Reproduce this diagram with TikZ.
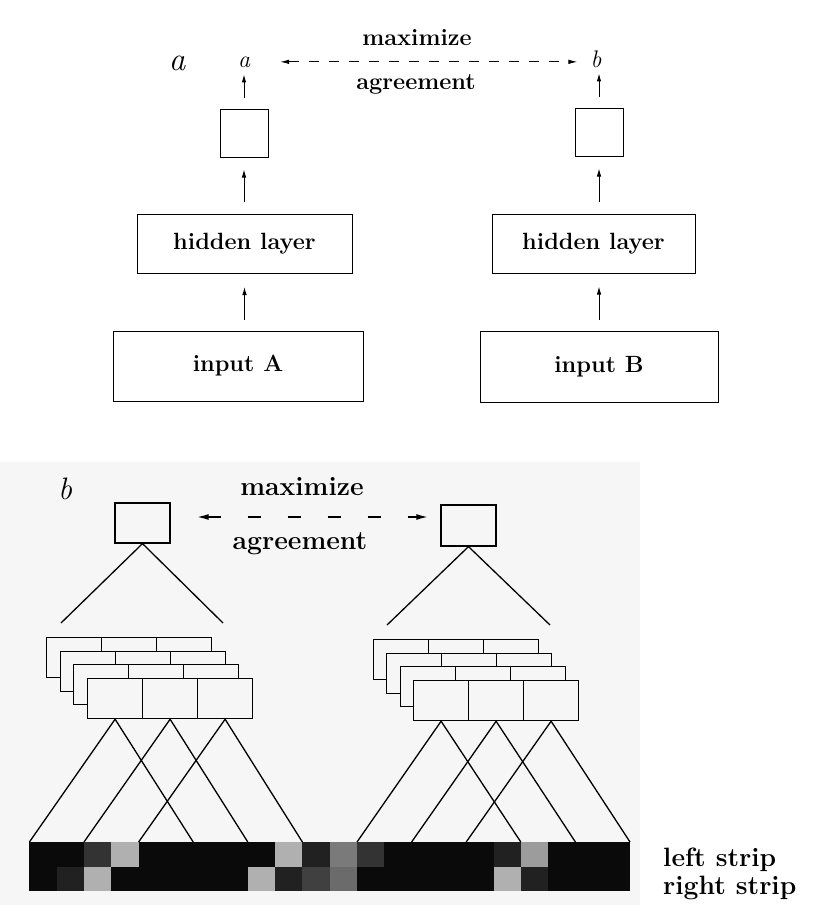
\documentclass[tikz,border=0pt]{standalone}
\usetikzlibrary{arrows.meta,calc}
\definecolor{bgb}{gray}{0.965}
\definecolor{sk}{gray}{0.04}
\definecolor{sdA}{gray}{0.13}
\definecolor{sdB}{gray}{0.2}
\definecolor{sdC}{gray}{0.25}
\definecolor{smA}{gray}{0.48}
\definecolor{smB}{gray}{0.42}
\definecolor{slA}{gray}{0.69}
\definecolor{slB}{gray}{0.61}
\tikzset{
  fa/.style={font=\fontsize{23.5}{27}\selectfont\bfseries},
  fb/.style={font=\fontsize{26.5}{30}\selectfont\bfseries},
  abox/.style={draw, line width=1pt, inner sep=0pt, fa},
  bbox/.style={draw, line width=1.2pt, inner sep=0pt, fill=bgb},
  cellbox/.style={draw, line width=1.2pt, inner sep=0pt, fill=bgb, minimum width=55pt, minimum height=40pt, anchor=north west},
  lbl/.style={inner sep=0pt, anchor=base},
  sarr/.style={line width=0.9pt, -{Latex[length=8pt,width=4.5pt]}},
  dasharrA/.style={line width=1pt, dash pattern=on 10pt off 10pt, {Latex[length=9pt,width=4.5pt]}-{Latex[length=9pt,width=4.5pt]}},
  dasharrB/.style={line width=1.8pt, dash pattern=on 13pt off 27pt, {Latex[length=12pt,width=6pt]}-{Latex[length=12pt,width=6pt]}},
  conn/.style={line width=1.3pt},
}
\begin{document}
\begin{tikzpicture}[x=1pt,y=-1pt]
\useasboundingbox (0,0) rectangle (833,905);
\fill[bgb] (0,462) rectangle (640,905);

% ---------- panel a ----------
\node[lbl, font=\fontsize{33}{36}\selectfont\itshape] (pa) at (177,70) {a};
\node[lbl, font=\fontsize{24}{28}\selectfont\itshape] (la) at (244,67) {a};
\node[lbl, font=\fontsize{24}{28}\selectfont\itshape] (lb) at (596,67) {b};
\node[lbl, fa] (maxa) at (417,45) {maximize};
\node[lbl, fa] (agra) at (416,89) {agreement};

\node[abox, minimum width=48pt, minimum height=48pt] (sa) at (244,133) {};
\node[abox, minimum width=48pt, minimum height=48pt] (sb) at (599,132) {};
\node[abox, minimum width=215pt, minimum height=59pt] (ha) at (244.5,244) {hidden layer};
\node[abox, minimum width=203pt, minimum height=59pt] (hb) at (593.5,243.5) {hidden layer};
\node[abox, minimum width=250pt, minimum height=70pt] (ia) at (238,366) {input A};
\node[abox, minimum width=238pt, minimum height=71pt] (ib) at (599,366.5) {input B};

\draw[sarr, shorten <=11pt, shorten >=13pt] (ha.south |- ia.north) -- (ha.south);
\draw[sarr, shorten <=12pt, shorten >=12pt] (sa.south |- ha.north) -- (sa.south);
\draw[sarr, shorten <=11pt, shorten >=7pt] (sa.north) -- (sa.north |- la.south);
\draw[sarr, shorten <=11pt, shorten >=13pt] (sb.south |- ib.north) -- (sb.south |- hb.south);
\draw[sarr, shorten <=12pt, shorten >=12pt] (sb.south |- hb.north) -- (sb.south);
\draw[sarr, shorten <=11pt, shorten >=6pt] (sb.north) -- (sb.north |- lb.south);
\draw[dasharrA, shorten <=36pt, shorten >=13pt] (la.center) -- (la.center -| lb.west);

% ---------- panel b ----------
\node[lbl, font=\fontsize{31}{34}\selectfont\itshape] (pb) at (65,499) {b};
\node[lbl, fb] (maxb) at (302,495) {maximize};
\node[lbl, fb] (agrb) at (300,549) {agreement};

\node[bbox, minimum width=55pt, minimum height=40pt] (ta) at (142.5,523) {};
\node[bbox, minimum width=55pt, minimum height=41pt] (tb) at (468.5,525.5) {};
\draw[dasharrB, shorten <=26pt, shorten >=12pt] ([yshift=6pt]ta.east) -- ([yshift=6pt]ta.east -| tb.west);

\coordinate (tal) at (61,623);
\coordinate (tar) at (223,623);
\coordinate (tbl) at (387,625);
\coordinate (tbr) at (550,625);
\draw[conn] (tal) -- (ta.south) -- (tar);
\draw[conn] (tbl) -- (tb.south) -- (tbr);

% stacks of feature maps (back layer first)
\foreach \j/\lx/\ly/\rx/\ry in {3/46/637/373/639, 2/60/651/386/653, 1/73/664/400/666, 0/87/678/413/680}{
  \foreach \i in {0,1,2}{
    \node[cellbox] (L\j\i) at ({\lx+55*\i},\ly) {};
    \node[cellbox] (R\j\i) at ({\rx+55*\i},\ry) {};
  }
}

% strip
\foreach \k in {0,...,22}{ \coordinate (s\k) at ({29.4+27.3*\k},842); }
\foreach \k/\ct/\cb in {0/sk/sk,1/sk/sdA,2/sdB/slA,3/slA/sk,4/sk/sk,5/sk/sk,6/sk/sk,7/sk/sk,8/sk/slA,9/slA/sdA,10/sdA/sdC,11/smA/smB,12/sdB/sk,13/sk/sk,14/sk/sk,15/sk/sk,16/sk/sk,17/sdA/slA,18/slB/sdA,19/sk/sk,20/sk/sk,21/sk/sk}{
  \fill[\ct] ({29.4+27.3*\k},842) rectangle ({29.4+27.3*(\k+1)+0.3},867);
  \fill[\cb] ({29.4+27.3*\k},866.7) rectangle ({29.4+27.3*(\k+1)+0.3},891);
}

\foreach \i in {0,1,2}{
  \pgfmathtruncatemacro{\a}{2*\i}
  \pgfmathtruncatemacro{\b}{2*\i+6}
  \pgfmathtruncatemacro{\c}{12+2*\i}
  \pgfmathtruncatemacro{\d}{18+2*\i}
  \draw[conn] (s\a) -- (L0\i.south) -- (s\b);
  \draw[conn] (s\c) -- (R0\i.south) -- (s\d);
}

\node[lbl, fb, anchor=base west] (ls) at (663,866) {left strip};
\node[lbl, fb, anchor=base west] (rs) at (663,894) {right strip};
\end{tikzpicture}
\end{document}
